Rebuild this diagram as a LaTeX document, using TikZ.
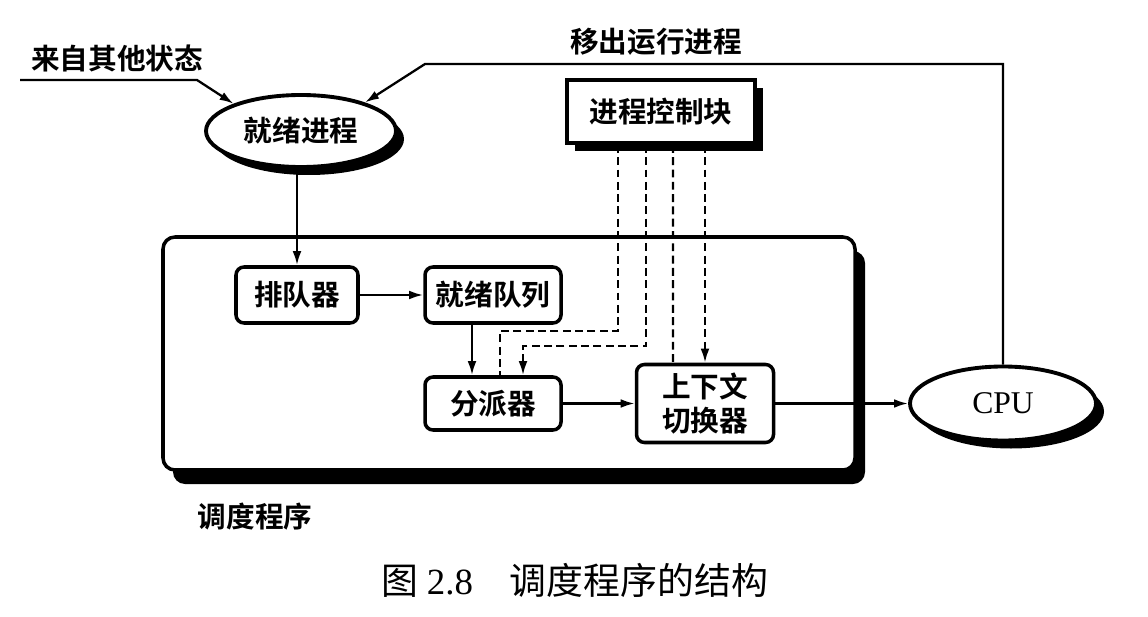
\documentclass[tikz,border=0pt]{standalone}
\usepackage{fontspec}
\setmainfont{Liberation Serif}
\newfontfamily\hei{Noto Sans CJK SC}[BoldFont={Noto Sans CJK SC Bold}]
\usetikzlibrary{arrows.meta, positioning, shapes.geometric, shadows}

\begin{document}
\begin{tikzpicture}[
        node distance = 2cm,
        on grid,
        >= {Latex[length = 8pt, width = 5pt]},
        every node/.style = {font = \hei\bfseries\fontsize{16.3}{19}\selectfont},
        dropblack/.style = {drop shadow = {shadow xshift = 1.6mm, shadow yshift = -1.6mm, fill = black, opacity = 1}},
        proc/.style = {ellipse, draw, line width = 2.2pt, fill = white, inner sep = 0pt, dropblack},
        unit/.style = {draw, rounded corners = 1.6mm, line width = 2pt, fill = white, align = center, inner sep = 0pt},
        link/.style = {line width = 1.3pt},
        ctrl/.style = {line width = 1.3pt, dash pattern = on 4.5pt off 2.5pt}
    ]

    \useasboundingbox (0,0) rectangle (22.96,12.32);

    % scheduler frame
    \node[draw, rounded corners = 2.4mm, line width = 2pt, fill = white,
          minimum width = 13.84cm, minimum height = 4.66cm,
          drop shadow = {shadow xshift = 2mm, shadow yshift = -2.8mm, fill = black, opacity = 1}]
          (sched) at (10.18, 5.25) {};

    \node[unit, minimum width = 2.44cm, minimum height = 1.12cm] (queuer) at (5.94, 6.42) {排队器};
    \node[unit, minimum width = 2.72cm, minimum height = 1.12cm] (readyq) [right = 3.92cm of queuer] {就绪队列};
    \node[unit, minimum width = 2.72cm, minimum height = 1.06cm] (dispatch) [below = 2.17cm of readyq] {分派器};
    \node[unit, minimum width = 2.74cm, minimum height = 1.56cm] (switcher) [right = 4.24cm of dispatch] {上下文\\切换器};
    \node[proc, minimum width = 3.72cm, minimum height = 1.48cm,
          font = \fontsize{18}{20}\selectfont] (cpu) [right = 5.96cm of switcher] {CPU};

    \node[proc, minimum width = 3.8cm, minimum height = 1.44cm] (ready) at (6.02, 9.70) {就绪进程};
    \node[draw, line width = 2.2pt, fill = white, minimum width = 3.76cm, minimum height = 1.26cm, dropblack]
          (pcb) at (13.22, 10.09) {进程控制块};

    % labels
    \node (fromother) at (2.34, 11.16) {来自其他状态};
    \node (moveout) at (13.12, 11.48) {移出运行进程};
    \node (schedname) at (5.1, 1.98) {调度程序};
    \node[font = \hei\fontsize{21}{24}\selectfont] (caption) at (11.5, 0.72) {图 {\rmfamily 2.8}\quad 调度程序的结构};

    \coordinate (entry) at (0.4, 10.72);
    \coordinate (entrybend) at (3.94, 10.72);
    \coordinate (exitbend) at (8.5, 11.04);

    \draw[link, ->] (entry) -- (entrybend) -- (ready.158);
    \draw[link, ->] (cpu.north) |- (exitbend) -- (ready.24);
    \draw[link, ->] (ready.south -| queuer) -- (queuer);
    \draw[link, ->] (queuer) -- (readyq);
    \draw[link, ->] ([xshift = -4.2mm] readyq.south) -- ([xshift = -4.2mm] dispatch.north);
    \draw[link, ->] (dispatch) -- (switcher);
    \draw[link, ->] (switcher) -- (cpu);

    % control block lines
    \draw[ctrl] ([xshift = -8.6mm] pcb.south) |- ([xshift = 1.4mm, yshift = 8.8mm] dispatch.north)
        -- ([xshift = 1.4mm] dispatch.north);
    \draw[ctrl, ->] ([xshift = -3mm] pcb.south) |- ([xshift = 6mm, yshift = 5.8mm] dispatch.north)
        -- ([xshift = 6mm] dispatch.north);
    \draw[ctrl] ([xshift = 2.4mm] pcb.south) -- ([xshift = -6.4mm] switcher.north);
    \draw[ctrl, ->] (switcher.north |- pcb.south) -- (switcher.north);

\end{tikzpicture}
\end{document}
